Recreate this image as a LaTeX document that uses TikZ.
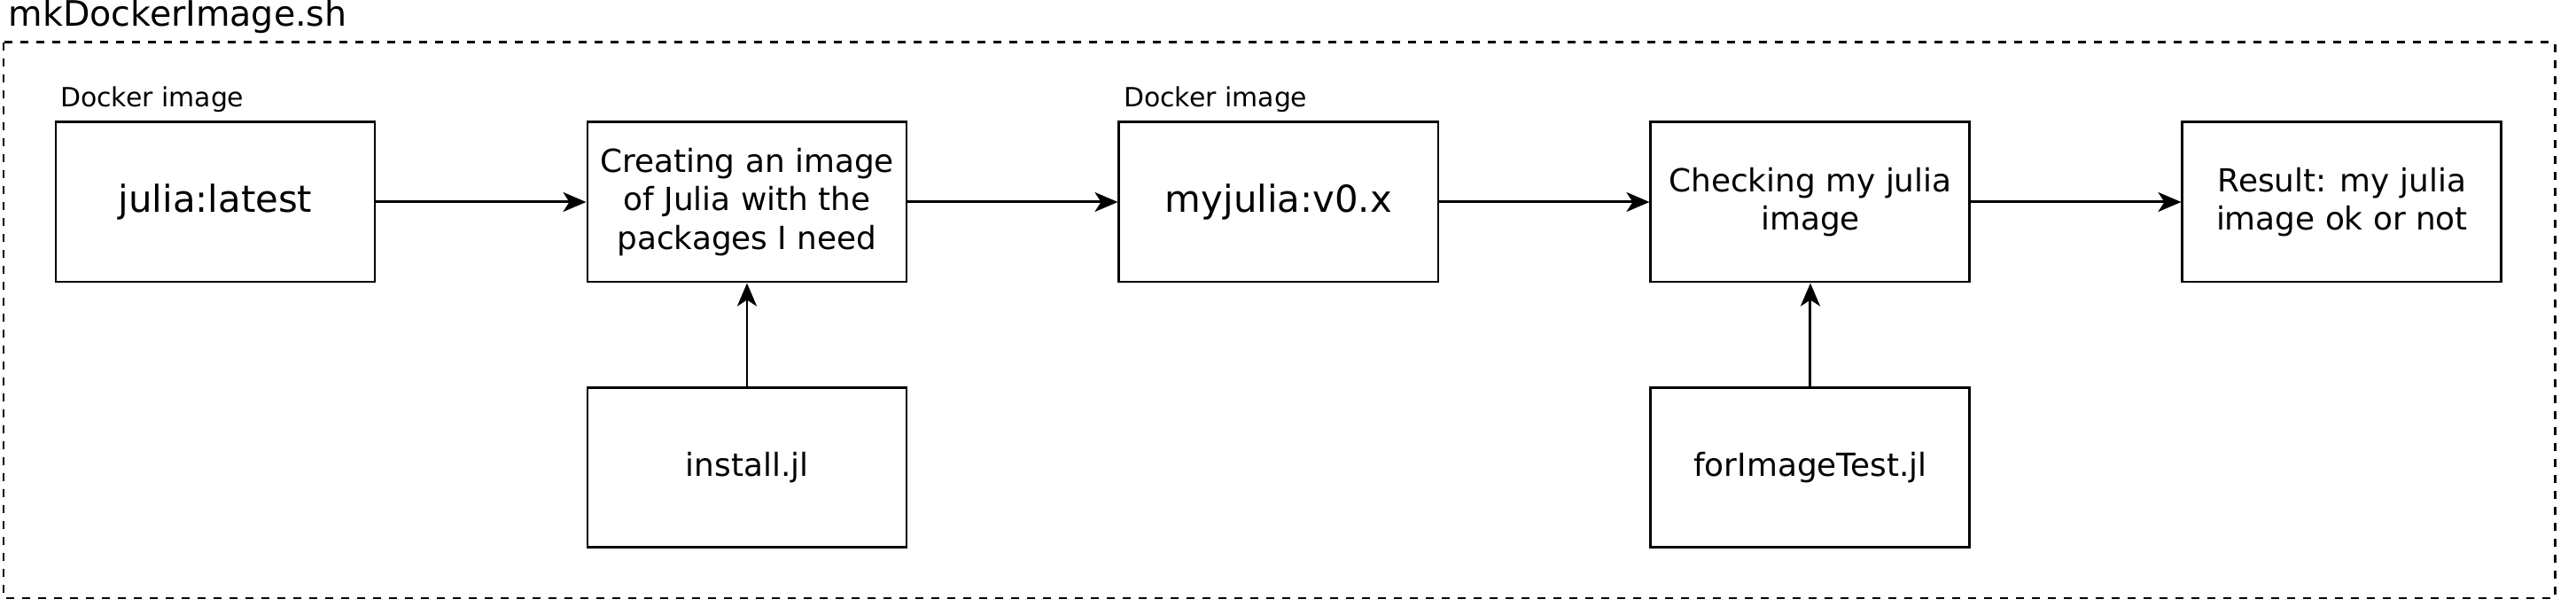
\documentclass[tikz,border=0pt]{standalone}
\usepackage{fontspec}
\setmainfont{DejaVu Sans}
\usepackage{tikz}
\usetikzlibrary{arrows.meta,positioning}

\begin{document}
\begin{tikzpicture}[font=\fontsize{10.2}{12.3}\selectfont, node distance=11.7mm and 23.7mm,
  box/.style={draw, line width=0.85pt, minimum width=36mm, minimum height=18mm, align=center, inner sep=1pt},
  big/.style={font=\fontsize{11.9}{14.3}\selectfont},
  lbl/.style={font=\fontsize{8.5}{10}\selectfont, inner sep=0pt, anchor=base west},
  arr/.style={-{Stealth[length=2.6mm,width=2.2mm,inset=0.7mm]}, line width=0.85pt}]
\useasboundingbox (0,0) rectangle (29.07,-6.85);
\draw[line width=0.85pt, dash pattern=on 0.9mm off 0.9mm] (0.04,-0.48) rectangle (28.83,-6.75);
\node[lbl, font=\fontsize{11.25}{13.5}\selectfont] (title) at (0.09,-0.30){mkDockerImage.sh};
\node[box,big] (jl) at (2.43,-2.28){julia:latest}; \node[box,right=of jl](cre){Creating an image\\of Julia with the\\packages I need};
\node[box,big,right=of cre](myjl){myjulia:v0.x}; \node[box,right=of myjl](chk){Checking my julia\\image};
\node[box,right=of chk](res){Result: my julia\\image ok or not};
\node[box,below=of cre](inst){install.jl}; \node[box,below=of chk](test){forImageTest.jl};
\node[lbl] (dimg1) at ([xshift=0.6mm,yshift=1.55mm]jl.north west){Docker image};
\node[lbl] (dimg2) at ([xshift=0.6mm,yshift=1.55mm]myjl.north west){Docker image};
\draw[arr](jl)--(cre); \draw[arr](cre)--(myjl);
\draw[arr](myjl)--(chk); \draw[arr](chk)--(res);
\draw[arr](inst)--(cre); \draw[arr](test)--(chk);
\end{tikzpicture}
\end{document}
